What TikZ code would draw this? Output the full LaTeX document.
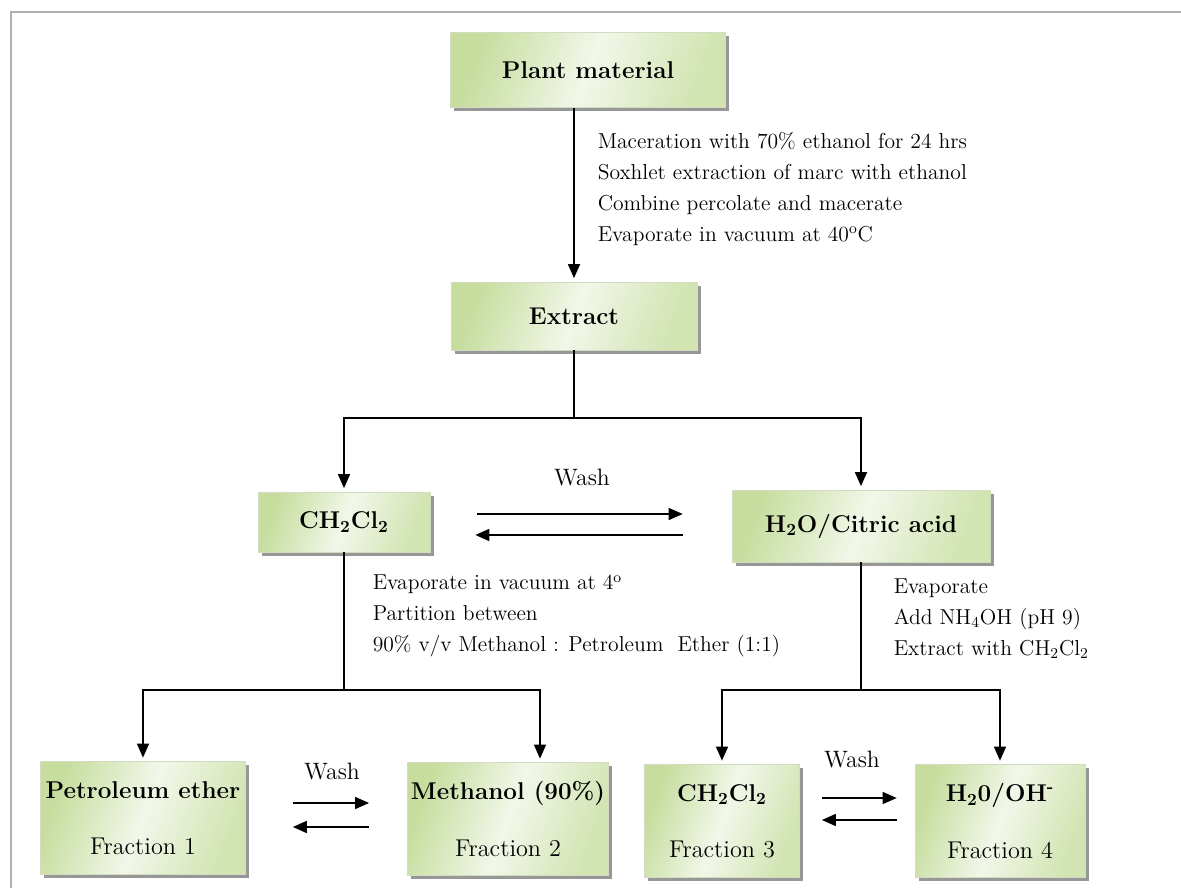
\documentclass[tikz,border=0pt]{standalone}
\usepackage{fontspec}
\usepackage{tikz}
\usetikzlibrary{arrows.meta, positioning, shadows}
\definecolor{boxgreen}{RGB}{198,221,158}
\definecolor{boxlight}{RGB}{242,247,233}
\definecolor{boxedge}{RGB}{210,220,192}
\definecolor{framegray}{RGB}{175,175,182}

\begin{document}
\begin{tikzpicture}[
      x=0.02cm, y=-0.02cm, line width=0.85pt, >={Triangle[length=0.28cm,width=0.24cm]},
      stage/.style={shading=axis, left color=boxgreen, right color=boxgreen!80, middle color=boxlight,
        shading angle=70, draw=boxedge, line width=0.4pt, inner sep=2pt,
        drop shadow={shadow xshift=2.2pt, shadow yshift=-2.2pt, fill=black!45, opacity=0.9},
        font=\bfseries\fontsize{13.8}{16}\selectfont},
      fraction/.style={stage, align=center, minimum height=2.26cm},
      note/.style={anchor=west, align=left, inner sep=0pt, font=\fontsize{12.3}{17.6}\selectfont},
      wash/.style={font=\fontsize{13.5}{15}\selectfont, inner sep=0pt},
      ]
      \useasboundingbox (0,0) rectangle (1181,888);
      % frame of the scan
      \draw[framegray, line width=1pt] (11,888) -- (11,12) -- (1181,12);

      \node[stage, minimum width=5.5cm, minimum height=1.5cm]    (plant)   at (588,70)  {Plant material};
      \node[stage, minimum width=4.92cm, minimum height=1.36cm]  (extract) at (574,316) {Extract};
      \node[stage, minimum width=3.44cm, minimum height=1.2cm]   (dcm)     at (344,522) {CH\textsubscript{2}Cl\textsubscript{2}};
      \node[stage, minimum width=5.16cm, minimum height=1.44cm]  (aq)      at (861,526) {H\textsubscript{2}O/Citric acid};

      \node[fraction, minimum width=4.1cm]  (pet)  at (143,818) {Petroleum ether\\[16pt]\mdseries Fraction 1};
      \node[fraction, minimum width=3.9cm]  (meoh) at (508,819) {Methanol (90\%)\\[16pt]\mdseries Fraction 2};
      \node[fraction, minimum width=3.1cm]  (dcmb) at (722,821) {CH\textsubscript{2}Cl\textsubscript{2}\\[16pt]\mdseries Fraction 3};
      \node[fraction, minimum width=3.4cm]  (aqb)  at (1000,821) {H\textsubscript{2}0/OH\textsuperscript{-}\\[16pt]\mdseries Fraction 4};

      % working steps
      \node[note] (note1) at (597,189) {Maceration with 70\% ethanol for 24 hrs\\
        Soxhlet extraction of marc with ethanol\\
        Combine percolate and macerate\\
        Evaporate in vacuum at 40\textsuperscript{o}C};
      \node[note] (note2) at (372,616) {Evaporate in vacuum at 4\textsuperscript{o}\\
        Partition between\\
        90\% v/v Methanol : Petroleum~~Ether (1:1)};
      \node[note] (note3) at (893,619) {Evaporate\\
        Add NH\textsubscript{4}OH (pH 9)\\
        Extract with CH\textsubscript{2}Cl\textsubscript{2}};

      \node[wash] (wash1) at (582,478) {Wash};
      \node[wash] (wash2) at (332,772) {Wash};
      \node[wash] (wash3) at (852,760) {Wash};

      \coordinate (split1) at (extract.south |- 0,418);
      \coordinate (split2) at (dcm.south |- 0,690);
      \coordinate (split3) at (aq.south |- 0,690);

      \draw[->, shorten >=2pt] (plant.south -| extract.north) -- (extract.north);
      \draw (extract.south) -- (split1);
      \draw[->, shorten >=2pt] (split1) -| (dcm.north);
      \draw[->, shorten >=2pt] (split1) -| (aq.north);

      \draw[->, shorten <=0.94cm, shorten >=0.98cm] ([yshift=0.16cm]dcm.east) -- ([yshift=0.16cm]dcm.east -| aq.west);
      \draw[<-, shorten <=0.9cm, shorten >=0.98cm] ([yshift=-0.26cm]dcm.east) -- ([yshift=-0.26cm]dcm.east -| aq.west);

      \draw (dcm.south) -- (split2);
      \draw[->, shorten >=2pt] (split2) -| (pet.north);
      \draw[->, shorten >=2pt] (split2) -| ([xshift=0.64cm]meoh.north);
      \draw (aq.south) -- (split3);
      \draw[->, shorten >=2pt] (split3) -| (dcmb.north);
      \draw[->, shorten >=2pt] (split3) -| (aqb.north);

      \draw[->, shorten <=0.94cm, shorten >=0.76cm] ([yshift=0.3cm]pet.east) -- ([yshift=0.3cm]pet.east -| meoh.west);
      \draw[<-, shorten <=0.94cm, shorten >=0.76cm] ([yshift=-0.18cm]pet.east) -- ([yshift=-0.18cm]pet.east -| meoh.west);
      \draw[->, shorten <=0.44cm, shorten >=0.36cm] ([yshift=0.46cm]dcmb.east) -- ([yshift=0.46cm]dcmb.east -| aqb.west);
      \draw[<-, shorten <=0.44cm, shorten >=0.36cm] ([yshift=0.02cm]dcmb.east) -- ([yshift=0.02cm]dcmb.east -| aqb.west);
\end{tikzpicture}
\end{document}
